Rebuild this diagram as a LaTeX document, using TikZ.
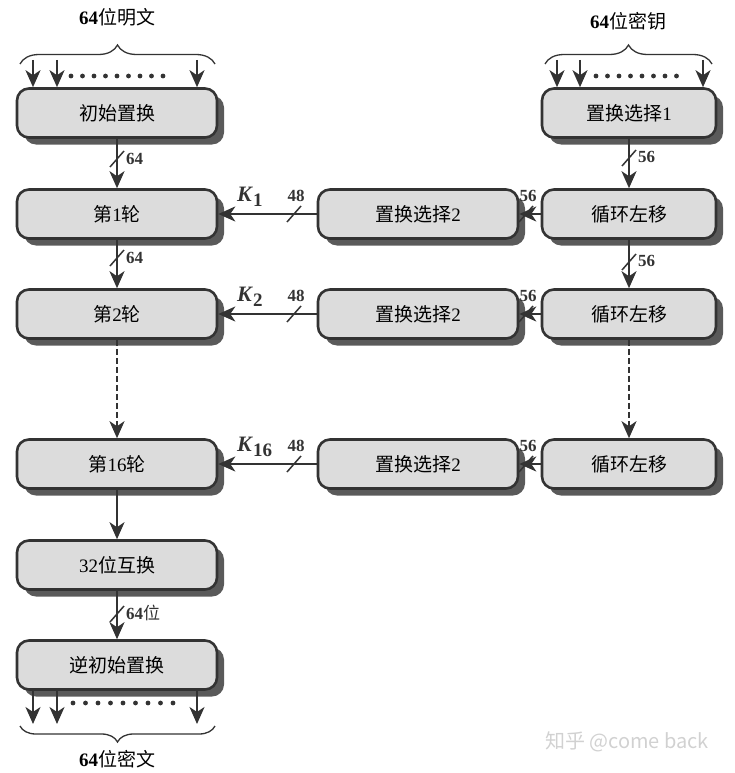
\documentclass[tikz,border=0pt]{standalone}
\usepackage{fontspec}
\setmainfont{Liberation Serif}
\newfontfamily\zh{Noto Sans CJK SC}
\usetikzlibrary{arrows.meta,shadows,decorations.pathreplacing}
\definecolor{boxfill}{HTML}{DCDCDC}
\definecolor{ink}{HTML}{333333}
\definecolor{shade}{HTML}{5A5A5A}
\tikzset{
  blk/.style={draw=ink,line width=2.6pt,fill=boxfill,rounded corners=12pt,
    minimum height=49pt,inner sep=0pt,font=\fontsize{19}{19}\selectfont,
    drop shadow={shadow xshift=7pt,shadow yshift=-7pt,fill=shade,opacity=1}},
  wide/.style={blk,minimum width=200pt},
  narrow/.style={blk,minimum width=174pt},
  arr/.style={draw=ink,line width=2pt,-{Stealth[length=17pt,width=15pt,inset=5pt]}},
  darr/.style={arr,dash pattern=on 6pt off 3pt},
  slash/.style={draw=ink,line width=1.5pt},
  num/.style={font=\fontsize{17}{17}\selectfont\bfseries,text=ink,inner sep=1pt},
  klab/.style={font=\fontsize{22}{22}\selectfont\bfseries,text=ink,inner sep=1pt},
  head/.style={font=\fontsize{19}{19}\selectfont\bfseries,text=black,inner sep=1pt},
  brc/.style={draw=ink,line width=1.3pt,decorate,decoration={brace,amplitude=19pt}},
  brcb/.style={draw=ink,line width=1.3pt,decorate,decoration={brace,amplitude=16pt}},
  dotc/.style={fill=ink,draw=none}
}
\begin{document}
\begin{tikzpicture}[x=1pt,y=-1pt]
\useasboundingbox (0,0) rectangle (735,773);
% left column
\node[wide] (ip)  at (117,113) {{\zh 初始置换}};
\node[wide] (r1)  at (117,214) {{\zh 第}1{\zh 轮}};
\node[wide] (r2)  at (117,314) {{\zh 第}2{\zh 轮}};
\node[wide] (r16) at (117,464) {{\zh 第}16{\zh 轮}};
\node[wide] (sw)  at (117,565) {32{\zh 位互换}};
\node[wide] (fp)  at (117,665) {{\zh 逆初始置换}};
% middle column
\node[wide] (pa) at (418,214) {{\zh 置换选择}2};
\node[wide] (pb) at (418,314) {{\zh 置换选择}2};
\node[wide] (pc) at (418,464) {{\zh 置换选择}2};
% right column
\node[narrow] (pc1) at (629,113) {{\zh 置换选择}1};
\node[narrow] (la)  at (629,214) {{\zh 循环左移}};
\node[narrow] (lb)  at (629,314) {{\zh 循环左移}};
\node[narrow] (lc)  at (629,464) {{\zh 循环左移}};
% left vertical flow
\draw[arr] (ip) -- (r1);
\draw[slash] (110,167) -- (124,151);
\node[num,anchor=west] (n1) at (125,159) {64};
\draw[arr] (r1) -- (r2);
\draw[slash] (110,266) -- (124,250);
\node[num,anchor=west] (n2) at (125,258) {64};
\draw[darr] (r2) -- (r16);
\draw[arr] (r16) -- (sw);
\draw[arr] (sw) -- (fp);
\draw[slash] (110,622) -- (124,606);
\node[num,anchor=west] (n3) at (125,613) {64{\zh\mdseries 位}};
% right vertical flow
\draw[arr] (pc1) -- (la);
\draw[slash] (622,166) -- (636,150);
\node[num,anchor=west] (n4) at (637,157) {56};
\draw[arr] (la) -- (lb);
\draw[slash] (622,270) -- (636,254);
\node[num,anchor=west] (n5) at (637,261) {56};
\draw[darr] (lb) -- (lc);
% horizontal flows
\foreach \l/\p/\r/\k/\y in {la/pa/r1/1/214, lb/pb/r2/2/314, lc/pc/r16/16/464}{
  \draw[arr] (\l) -- (\p);
  \draw[slash] (519,\y+8) -- (533,\y-8);
  \node[num] at (528,\y-18) {56};
  \draw[arr] (\p) -- (\r);
  \draw[slash] (287,\y+8) -- (301,\y-8);
  \node[num] at (296,\y-18) {48};
  \node[klab,anchor=west] at (236,\y-17) {\textit{K}\raisebox{-5pt}{\fontsize{19}{19}\selectfont\k}};
}
% top-left inputs
\node[head] (t1) at (117,17) {64{\zh\mdseries 位明文}};
\draw[brc] (20,64) -- (215,64);
\coordinate (a1) at (33,60); \coordinate (a2) at (57,60); \coordinate (a3) at (197,60);
\foreach \c in {a1,a2,a3}{\draw[arr] (\c) -- (\c |- ip.north);}
\foreach \i in {0,...,8}{\fill[dotc] (71+\i*11.5,76) circle (2.4pt);}
% top-right inputs
\node[head] (t2) at (628,21) {64{\zh\mdseries 位密钥}};
\draw[brc] (545,64) -- (712,64);
\coordinate (b1) at (557,60); \coordinate (b2) at (580,60); \coordinate (b3) at (703,60);
\foreach \c in {b1,b2,b3}{\draw[arr] (\c) -- (\c |- pc1.north);}
\foreach \i in {0,...,7}{\fill[dotc] (596+\i*11.5,76) circle (2.4pt);}
% bottom outputs
\coordinate (c1) at (33,724); \coordinate (c2) at (57,724); \coordinate (c3) at (197,724);
\foreach \c in {c1,c2,c3}{\draw[arr] (\c |- fp.south) -- (\c);}
\foreach \i in {0,...,8}{\fill[dotc] (73+\i*12.5,703) circle (2.4pt);}
\draw[brcb] (215,726) -- (20,726);
\node[head] (t3) at (117,759) {64{\zh\mdseries 位密文}};
% watermark
\node[font=\zh\fontsize{20}{20}\selectfont,text=black!18] (wm) at (627,742) {知乎 @come back};
\end{tikzpicture}
\end{document}
